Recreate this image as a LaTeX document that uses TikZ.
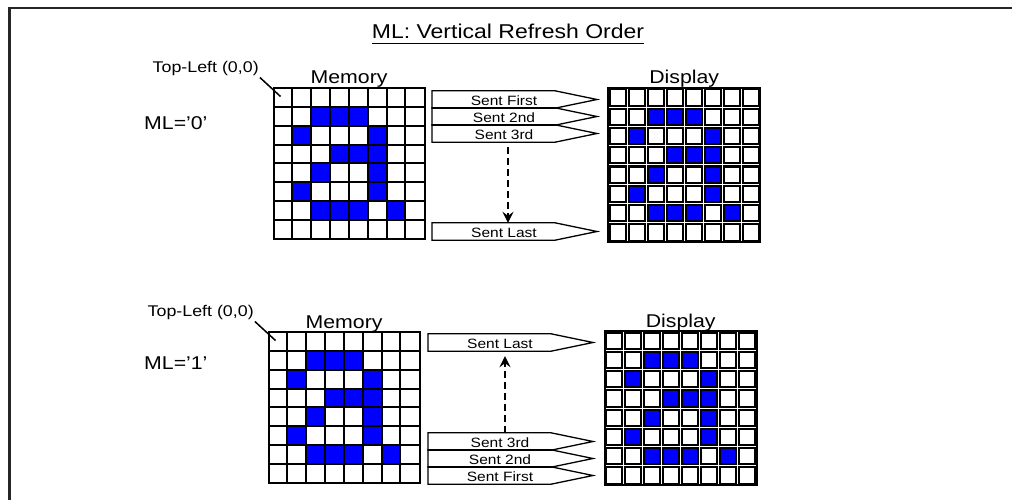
\documentclass[tikz,border=0pt]{standalone}
\usepackage{fontspec}
\setmainfont[FakeStretch=1.15]{Liberation Sans}
\usetikzlibrary{arrows.meta}

\definecolor{pixblue}{RGB}{0,0,255}
% lit pixels of the glyph, column/row from top-left
\newcommand{\bluepixels}{2/1,3/1,4/1,1/2,5/2,3/3,4/3,5/3,2/4,5/4,1/5,5/5,2/6,3/6,4/6,6/6}

\begin{document}
\begin{tikzpicture}[x=1pt, y=-1pt,
  gridline/.style={draw=black, line width=2pt},
  dispcell/.style={draw=black, line width=2pt},
  sentbox/.style={inner sep=0pt, minimum height=17pt, text height=14pt, text depth=1.5pt, font=\fontsize{13.5}{16}\selectfont},
  sentline/.style={draw=black, line width=1.3pt},
  flow/.style={dash pattern=on 7pt off 4pt, line width=1.5pt, -{Stealth[length=11pt,width=11pt,inset=4pt]}},
  biglbl/.style={inner sep=0pt, anchor=base west, font=\fontsize{18.5}{22}\selectfont},
  smalllbl/.style={inner sep=0pt, anchor=base west, font=\fontsize{15.5}{18}\selectfont}]

\useasboundingbox (0,0) rectangle (1012,500);

% Outer frame (runs off the right and bottom edges)
\draw[line width=2.2pt, black!85] (9.5,500) -- (9.5,8) -- (1012,8);

% Title
\node[inner sep=0pt, anchor=base, text depth=5pt, font=\fontsize{20}{24}\selectfont] (title) at (508,38.3) {ML: Vertical Refresh Order};
\draw[line width=1.5pt] (title.south west) -- (title.south east);

% Two panels: ML='0' (top) and ML='1' (bottom)
\foreach \p/\mx/\my/\dx/\dy/\ml in {0/273.5/88/608/88/0, 1/268.5/332/604.5/331/1} {
    % Memory grid
    \node[inner sep=0pt, minimum width=150.8, minimum height=150.8, anchor=north west] (mem\p) at (\mx,\my) {};
    \foreach \c/\r in \bluepixels {
        \fill[pixblue] ({\mx+\c*18.85},{\my+\r*18.85}) rectangle ++(18.85,18.85);
    }
    \foreach \k in {1,...,7} {
        \draw[gridline] ({\mx+\k*18.85},\my) -- ++(0,150.8);
        \draw[gridline] (\mx,{\my+\k*18.85}) -- ++(150.8,0);
    }
    \draw[gridline] (mem\p.north west) rectangle (mem\p.south east);

    % Display grid
    \node[inner sep=0pt, minimum width=152, minimum height=154, anchor=north west] (disp\p) at (\dx,\dy) {};
    \foreach \c in {0,...,7} {
        \foreach \r in {0,...,7} {
            \draw[dispcell] ({\dx+\c*19+1.5},{\dy+\r*19.25+1.5}) rectangle ++(16,16.25);
        }
    }
    \foreach \c/\r in \bluepixels {
        \filldraw[dispcell, fill=pixblue] ({\dx+\c*19+1.5},{\dy+\r*19.25+1.5}) rectangle ++(16,16.25);
    }
    \draw[line width=2pt] (disp\p.north west) rectangle (disp\p.south east);

    % Labels
    \node[biglbl, anchor=base] (memlbl\p) at ([yshift=4pt]mem\p.north) {Memory};
    \node[biglbl, anchor=base] (displbl\p) at ([yshift=4pt]disp\p.north) {Display};
    \node[biglbl] (ml\p) at (144,{\my+42-5*\p}) {ML=’\ml’};
    \node[smalllbl] (tl\p) at ({\mx-121},{\my-15.5}) {Top-Left (0,0)};
    \coordinate (corner\p) at ({\mx+7},{\my+8.5});
    \draw[line width=1.5pt] ([shift={(1pt,-5pt)}]tl\p.base east) -- (corner\p);
}

% Rows sent to the display
\foreach \n/\xx/\yy/\lbl in {t1/504/99.5/Sent First, t2/504/116.5/Sent 2nd, t3/504/133.5/Sent 3rd, t4/504/231.5/Sent Last,
                              b1/500/475.5/Sent First, b2/500/458.5/Sent 2nd, b3/500/441.5/Sent 3rd, b4/500/342.5/Sent Last} {
    \node[sentbox] (\n) at (\xx,\yy) {\lbl};
    \draw[sentline] ([xshift=-72pt]\n.north) -- ([xshift=51pt]\n.north) -- ([xshift=93pt]\n.center)
        -- ([xshift=51pt]\n.south) -- ([xshift=-72pt]\n.south) -- cycle;
}

% Order of sending
\draw[flow, shorten <=5pt] ([xshift=4pt]t3.south) -- ([xshift=4pt]t4.north);
\draw[flow, shorten >=5pt] ([xshift=5pt]b3.north) -- ([xshift=5pt]b4.south);
\end{tikzpicture}
\end{document}
